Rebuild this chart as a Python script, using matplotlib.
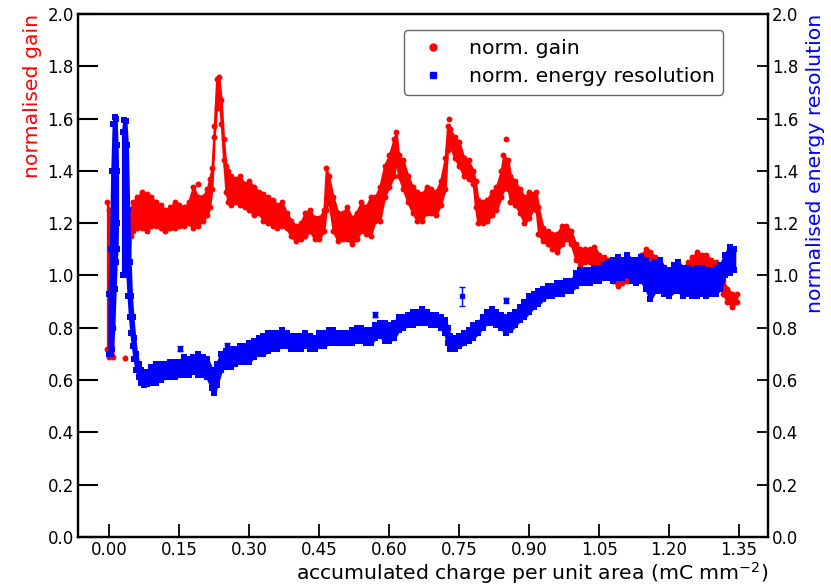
import numpy as np
import matplotlib.pyplot as plt
from matplotlib.lines import Line2D

# gain band: x, lower edge, upper edge
gain_x = [-0.004, -0.001, 0.008, 0.034, 0.038, 0.042, 0.046,
          0.05, 0.06, 0.07, 0.08, 0.09, 0.10, 0.11, 0.12, 0.13, 0.14, 0.15, 0.16, 0.17, 0.18, 0.19,
          0.20, 0.21, 0.215, 0.22, 0.225, 0.23, 0.235, 0.24, 0.245, 0.25, 0.255, 0.26, 0.27, 0.28, 0.29,
          0.30, 0.31, 0.32, 0.33, 0.34, 0.35, 0.36, 0.37, 0.38, 0.39,
          0.40, 0.41, 0.42, 0.43, 0.44, 0.45, 0.46, 0.465, 0.47, 0.48, 0.49,
          0.50, 0.51, 0.52, 0.53, 0.54, 0.55, 0.56, 0.57, 0.58, 0.59,
          0.60, 0.61, 0.615, 0.62, 0.63, 0.64, 0.65, 0.66, 0.67, 0.68, 0.69,
          0.70, 0.71, 0.72, 0.725, 0.73, 0.74, 0.75, 0.76, 0.77, 0.78, 0.785, 0.79,
          0.80, 0.81, 0.82, 0.83, 0.84, 0.845, 0.855, 0.86, 0.87, 0.88, 0.89,
          0.90, 0.91, 0.915, 0.92, 0.93, 0.94, 0.95, 0.96, 0.97, 0.98, 0.99,
          1.00, 1.01, 1.02, 1.03, 1.04, 1.05, 1.06, 1.07, 1.08, 1.09,
          1.10, 1.11, 1.12, 1.13, 1.14, 1.15, 1.16, 1.17, 1.18, 1.19,
          1.20, 1.21, 1.22, 1.23, 1.24, 1.25, 1.26, 1.27, 1.28, 1.29,
          1.30, 1.31, 1.315, 1.325, 1.335, 1.345]
gain_lo = [0.72, 0.69, 0.69, 1.01, 1.02, 1.05, 1.15,
           1.17, 1.18, 1.18, 1.17, 1.19, 1.19, 1.18, 1.17, 1.18, 1.18, 1.19, 1.19, 1.20, 1.18, 1.19,
           1.21, 1.23, 1.26, 1.33, 1.53, 1.64, 1.68, 1.58, 1.44, 1.32, 1.28, 1.27, 1.28, 1.27, 1.26,
           1.25, 1.23, 1.24, 1.21, 1.20, 1.19, 1.18, 1.19, 1.18, 1.15,
           1.13, 1.14, 1.15, 1.17, 1.14, 1.14, 1.17, 1.25, 1.29, 1.17, 1.13,
           1.14, 1.14, 1.12, 1.14, 1.17, 1.16, 1.15, 1.21, 1.21, 1.30,
           1.34, 1.38, 1.44, 1.38, 1.33, 1.28, 1.24, 1.21, 1.21, 1.24, 1.24,
           1.23, 1.27, 1.33, 1.48, 1.50, 1.45, 1.42, 1.38, 1.37, 1.35, 1.26, 1.20,
           1.20, 1.21, 1.23, 1.25, 1.30, 1.33, 1.33, 1.28, 1.27, 1.24, 1.20,
           1.22, 1.26, 1.25, 1.16, 1.13, 1.12, 1.10, 1.09, 1.12, 1.14, 1.12,
           1.06, 1.04, 1.05, 1.05, 1.03, 1.02, 1.02, 1.01, 0.98, 0.96,
           0.97, 0.98, 1.00, 1.01, 1.03, 1.03, 1.02, 1.00, 0.98, 0.97,
           0.97, 0.97, 0.96, 0.97, 0.98, 1.00, 1.01, 1.02, 1.01, 1.00,
           0.99, 0.97, 0.93, 0.90, 0.88, 0.90]
gain_hi = [1.28, 1.25, 0.80, 1.08, 1.09, 1.15, 1.25,
           1.28, 1.30, 1.32, 1.31, 1.30, 1.28, 1.27, 1.25, 1.26, 1.28, 1.27, 1.26, 1.28, 1.34, 1.30,
           1.30, 1.33, 1.37, 1.41, 1.57, 1.75, 1.76, 1.67, 1.52, 1.42, 1.40, 1.38, 1.37, 1.38, 1.35,
           1.36, 1.34, 1.32, 1.31, 1.30, 1.29, 1.27, 1.28, 1.24, 1.21,
           1.19, 1.20, 1.24, 1.25, 1.22, 1.22, 1.25, 1.41, 1.38, 1.30, 1.24,
           1.24, 1.26, 1.22, 1.24, 1.28, 1.26, 1.30, 1.30, 1.34, 1.42,
           1.46, 1.52, 1.55, 1.46, 1.44, 1.38, 1.34, 1.32, 1.31, 1.34, 1.33,
           1.32, 1.36, 1.45, 1.57, 1.56, 1.53, 1.51, 1.45, 1.44, 1.40, 1.36, 1.29,
           1.28, 1.29, 1.32, 1.34, 1.40, 1.46, 1.44, 1.38, 1.36, 1.33, 1.30,
           1.32, 1.31, 1.32, 1.26, 1.18, 1.17, 1.16, 1.16, 1.19, 1.19, 1.17,
           1.12, 1.10, 1.10, 1.10, 1.11, 1.08, 1.07, 1.06, 1.04, 1.02,
           1.03, 1.03, 1.05, 1.06, 1.08, 1.10, 1.09, 1.07, 1.04, 1.03,
           1.02, 1.02, 1.02, 1.03, 1.05, 1.07, 1.09, 1.08, 1.08, 1.06,
           1.05, 1.02, 0.98, 0.95, 0.93, 0.93]
# single gain points standing apart from the band
gain_odd_x = [0.033, 0.728, 0.851, 0.19]
gain_odd_y = [0.685, 1.60, 1.52, 1.35]

# energy resolution band: x, lower edge, upper edge
res_x = [0.000, 0.003, 0.006, 0.009, 0.012, 0.014, 0.016, 0.017,
         0.029, 0.032, 0.035, 0.038, 0.041, 0.044, 0.047, 0.050, 0.054, 0.058, 0.063, 0.068, 0.074, 0.080,
         0.09, 0.10, 0.11, 0.12, 0.13, 0.14, 0.15, 0.16, 0.17, 0.18, 0.19,
         0.20, 0.21, 0.22, 0.225, 0.23, 0.24, 0.25, 0.26, 0.27, 0.28, 0.29,
         0.30, 0.31, 0.32, 0.33, 0.34, 0.35, 0.36, 0.37, 0.38, 0.39,
         0.40, 0.41, 0.42, 0.43, 0.44, 0.45, 0.46, 0.47, 0.48, 0.49,
         0.50, 0.51, 0.52, 0.53, 0.54, 0.55, 0.56, 0.57, 0.58, 0.59,
         0.60, 0.61, 0.62, 0.63, 0.64, 0.65, 0.66, 0.67, 0.68, 0.69,
         0.70, 0.71, 0.72, 0.725, 0.73, 0.74, 0.75, 0.76, 0.77, 0.78, 0.79,
         0.80, 0.81, 0.82, 0.83, 0.84, 0.85, 0.86, 0.87, 0.88, 0.89,
         0.90, 0.91, 0.92, 0.93, 0.94, 0.95, 0.96, 0.97, 0.98, 0.99,
         1.00, 1.01, 1.02, 1.03, 1.04, 1.05, 1.06, 1.07, 1.08, 1.09,
         1.10, 1.11, 1.12, 1.13, 1.14, 1.15, 1.16, 1.17, 1.18, 1.19,
         1.20, 1.21, 1.22, 1.23, 1.24, 1.25, 1.26, 1.27, 1.28, 1.29,
         1.30, 1.31, 1.32, 1.33, 1.34]
res_lo = [0.70, 0.70, 0.72, 0.80, 0.95, 1.05, 1.10, 1.20,
          1.00, 1.00, 1.05, 1.02, 0.92, 0.84, 0.78, 0.73, 0.68, 0.64, 0.61, 0.59, 0.58, 0.585,
          0.59, 0.59, 0.60, 0.61, 0.61, 0.61, 0.62, 0.62, 0.62, 0.63, 0.62,
          0.62, 0.61, 0.57, 0.55, 0.58, 0.64, 0.65, 0.65, 0.66, 0.67, 0.67,
          0.67, 0.69, 0.70, 0.70, 0.71, 0.72, 0.72, 0.73, 0.73, 0.72,
          0.72, 0.72, 0.73, 0.72, 0.72, 0.73, 0.73, 0.74, 0.74, 0.74,
          0.74, 0.74, 0.74, 0.75, 0.75, 0.74, 0.74, 0.76, 0.77, 0.75,
          0.75, 0.76, 0.79, 0.80, 0.81, 0.81, 0.82, 0.82, 0.82, 0.81,
          0.81, 0.80, 0.78, 0.74, 0.72, 0.72, 0.73, 0.74, 0.75, 0.76, 0.78,
          0.80, 0.82, 0.82, 0.81, 0.80, 0.78, 0.79, 0.81, 0.83, 0.84,
          0.86, 0.88, 0.89, 0.91, 0.92, 0.92, 0.93, 0.93, 0.94, 0.94,
          0.96, 0.97, 0.97, 0.97, 0.98, 0.98, 0.99, 0.99, 0.98, 0.99,
          0.99, 1.00, 0.98, 0.97, 0.98, 0.95, 0.91, 0.94, 0.94, 0.93,
          0.92, 0.94, 0.94, 0.92, 0.93, 0.92, 0.92, 0.93, 0.92, 0.93,
          0.93, 0.95, 1.00, 1.01, 1.02]
res_hi = [0.93, 1.10, 1.40, 1.58, 1.605, 1.60, 1.50, 1.40,
          1.55, 1.595, 1.59, 1.50, 1.25, 1.05, 0.92, 0.84, 0.76, 0.70, 0.66, 0.64, 0.63, 0.63,
          0.65, 0.66, 0.66, 0.66, 0.67, 0.67, 0.67, 0.69, 0.68, 0.69, 0.70,
          0.69, 0.68, 0.64, 0.62, 0.66, 0.70, 0.71, 0.72, 0.72, 0.73, 0.73,
          0.74, 0.75, 0.76, 0.77, 0.78, 0.78, 0.78, 0.79, 0.78, 0.77,
          0.77, 0.77, 0.78, 0.77, 0.76, 0.78, 0.78, 0.79, 0.79, 0.78,
          0.78, 0.78, 0.79, 0.80, 0.80, 0.79, 0.79, 0.81, 0.82, 0.82,
          0.81, 0.82, 0.84, 0.84, 0.85, 0.86, 0.86, 0.87, 0.86, 0.85,
          0.85, 0.84, 0.83, 0.80, 0.77, 0.76, 0.77, 0.78, 0.79, 0.81, 0.82,
          0.84, 0.86, 0.87, 0.86, 0.85, 0.84, 0.85, 0.86, 0.88, 0.90,
          0.92, 0.93, 0.94, 0.95, 0.96, 0.96, 0.97, 0.97, 0.98, 0.98,
          1.01, 1.02, 1.02, 1.02, 1.03, 1.03, 1.04, 1.05, 1.06, 1.07,
          1.06, 1.08, 1.06, 1.06, 1.07, 1.06, 1.04, 1.05, 1.06, 1.03,
          1.02, 1.04, 1.05, 1.03, 1.03, 1.02, 1.03, 1.03, 1.02, 1.02,
          1.03, 1.04, 1.08, 1.11, 1.10]
# single resolution points with visible error bars
res_odd_x = [0.757, 0.851, 0.152, 0.253, 0.57]
res_odd_y = [0.92, 0.905, 0.72, 0.73, 0.85]
res_odd_err = [0.035, 0.01, 0.01, 0.01, 0.01]

# the bands break between the first spike and the rest
gain_parts = [slice(0, 2), slice(1, 3), slice(3, None)]
res_parts = [slice(0, 8), slice(8, None)]

fig = plt.figure(figsize=(8.31, 5.85), dpi=100)
ax = fig.add_axes([0.0939, 0.0821, 0.8303, 0.894])
ax2 = ax.twinx()

# gain (left axis)
for p in gain_parts:
    ax.fill_between(gain_x[p], gain_lo[p], gain_hi[p], color='red', lw=1.5, edgecolor='red')
ax.scatter(gain_x + gain_x, gain_lo + gain_hi, s=18, color='red', lw=0)
ax.scatter(gain_odd_x, gain_odd_y, s=18, color='red', lw=0)

# energy resolution (right axis)
for p in res_parts:
    ax2.fill_between(res_x[p], res_lo[p], res_hi[p], color='blue', lw=2, edgecolor='blue')
ax2.scatter(res_x + res_x, res_lo + res_hi, s=18, marker='s', color='blue', lw=0)
ax2.errorbar(res_odd_x, res_odd_y, yerr=res_odd_err, fmt='s', ms=3.5, color='blue',
             capsize=2, elinewidth=1)

ax.set_xlim(-0.067, 1.412)
ax.set_ylim(0, 2.0)
ax2.set_ylim(0, 2.0)
ax.set_xticks(np.arange(0, 1.36, 0.15))
ax.set_xticklabels([f"{v:.2f}" for v in np.arange(0, 1.36, 0.15)])
ax.set_yticks(np.arange(0, 2.01, 0.2))
ax2.set_yticks(np.arange(0, 2.01, 0.2))

for a in (ax, ax2):
    for sp in a.spines.values():
        sp.set_linewidth(1.6)
ax.tick_params(axis='y', direction='in', length=14.5, width=1.5, labelsize=12, pad=3)
ax.tick_params(axis='x', direction='in', length=9.5, width=1.3, labelsize=12, pad=3)
ax2.tick_params(axis='y', direction='in', length=8, width=1.3, labelsize=12, pad=3)

ax.set_xlabel("accumulated charge per unit area (mC mm$^{-2}$)", fontsize=14.7, loc='right', labelpad=1)
ax.set_ylabel("normalised gain", fontsize=14.7, color='red', loc='top', labelpad=4)
ax2.set_ylabel("normalised energy resolution", fontsize=14.7, color='blue', loc='top', labelpad=5)

handles = [Line2D([], [], ls='none', marker='o', color='red', ms=5),
           Line2D([], [], ls='none', marker='s', color='blue', ms=5)]
ax2.legend(handles, ["norm. gain", "norm. energy resolution"], loc='upper right',
           bbox_to_anchor=(0.935, 0.969), borderaxespad=0, fontsize=14.7, handlelength=2.0,
           handletextpad=0.75, labelspacing=0.45, borderpad=0.42, edgecolor='0.4',
           fancybox=True, framealpha=1)

fig.savefig("out.png", dpi=100)
